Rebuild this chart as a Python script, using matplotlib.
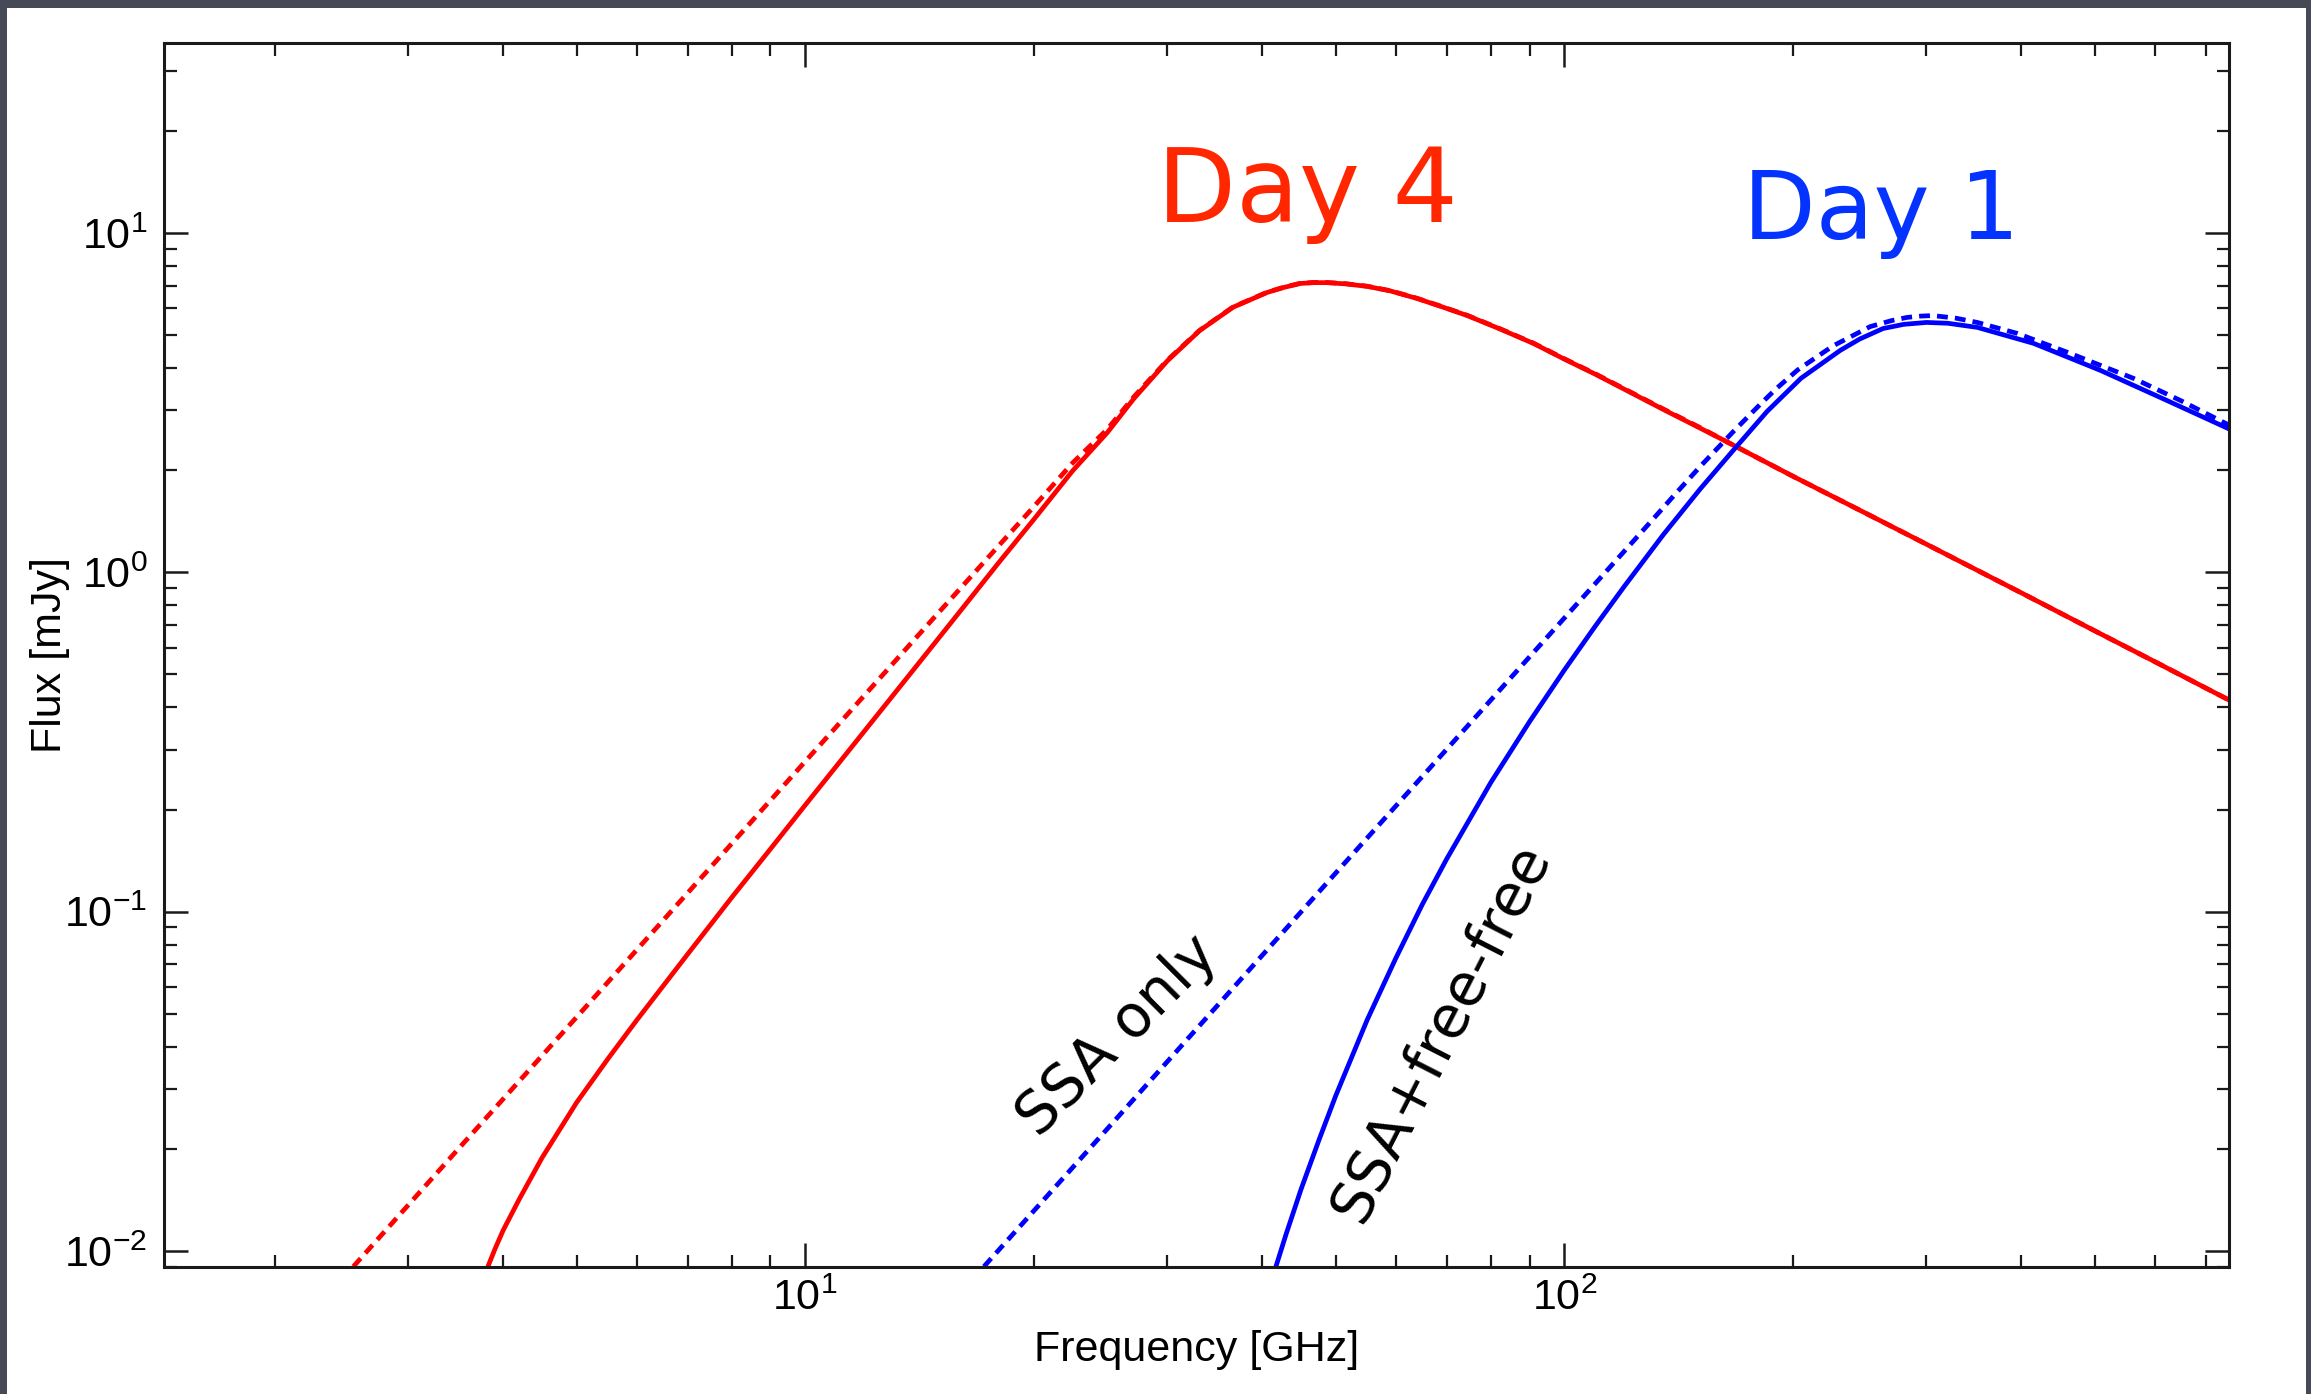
import matplotlib
matplotlib.use("Agg")
import matplotlib.pyplot as plt
from matplotlib.patches import Rectangle
from matplotlib.ticker import LogLocator, NullFormatter

# Day 4 spectrum, synchrotron self-absorption only (GHz, mJy)
freq_day4_ssa = [2.54, 3.5, 5.0, 7.0, 10.0, 14.0, 20.0, 22.5, 25.0, 27.1, 30.0, 33.1,
                 36.6, 40.6, 42.7, 44.9, 46.8, 48.6, 51.5, 55.0, 59.0, 64.0, 69.0, 74.5,
                 82.0, 91.0, 100.0, 110.0, 118.6, 135.0, 151.0, 164.0, 200.0, 250.0,
                 300.0, 400.0, 500.0, 600.0, 750.0]
flux_day4_ssa = [0.009, 0.0201, 0.0489, 0.1135, 0.277, 0.642, 1.56, 2.10, 2.64, 3.29,
                 4.22, 5.17, 6.05, 6.69, 6.92, 7.11, 7.15, 7.15, 7.09, 6.97, 6.76, 6.42,
                 6.07, 5.72, 5.24, 4.74, 4.26, 3.84, 3.52, 3.03, 2.67, 2.42, 1.92, 1.49,
                 1.21, 0.87, 0.672, 0.545, 0.421]

# Day 4 spectrum, SSA plus free-free absorption
freq_day4_ff = [3.82, 3.9, 4.0, 4.2, 4.5, 5.0, 5.5, 6.0, 7.0, 8.0, 9.0, 10.0, 12.0, 14.0,
                16.0, 18.0, 20.0, 22.5, 25.0, 27.1, 30.0, 33.1, 36.6, 40.6, 42.7, 44.9,
                46.8, 48.6, 51.5, 55.0, 59.0, 64.0, 69.0, 74.5, 82.0, 91.0, 100.0, 110.0,
                118.6, 135.0, 151.0, 164.0, 200.0, 250.0, 300.0, 400.0, 500.0, 600.0,
                750.0]
flux_day4_ff = [0.009, 0.0101, 0.0115, 0.0142, 0.0188, 0.0274, 0.0369, 0.0479, 0.0749,
                0.110, 0.153, 0.206, 0.343, 0.528, 0.768, 1.07, 1.43, 1.99, 2.58, 3.25,
                4.20, 5.16, 6.04, 6.68, 6.91, 7.10, 7.14, 7.14, 7.08, 6.96, 6.75, 6.41,
                6.06, 5.71, 5.23, 4.73, 4.25, 3.83, 3.51, 3.02, 2.66, 2.42, 1.92, 1.49,
                1.21, 0.87, 0.672, 0.545, 0.421]

# Day 1 spectrum, SSA only
freq_day1_ssa = [17.2, 25.0, 35.0, 50.0, 70.0, 100.0, 130.0, 140.0, 151.0, 167.0, 181.0,
                 190.0, 203.0, 226.0, 253.0, 270.0, 283.0, 295.0, 306.0, 328.0, 350.0,
                 395.0, 460.0, 562.0, 650.0, 750.0]
flux_day1_ssa = [0.009, 0.0229, 0.0532, 0.130, 0.301, 0.733, 1.41, 1.70, 2.05, 2.60,
                 3.12, 3.47, 3.95, 4.65, 5.30, 5.52, 5.64, 5.69, 5.71, 5.61, 5.45, 5.06,
                 4.45, 3.73, 3.20, 2.72]

# Day 1 spectrum, SSA plus free-free absorption
freq_day1_ff = [41.7, 43.0, 45.0, 47.5, 50.0, 55.0, 60.0, 65.0, 70.0, 80.0, 90.0, 100.0,
                110.0, 120.0, 135.0, 151.0, 167.0, 185.0, 205.0, 231.0, 245.0, 263.0,
                280.0, 300.0, 320.0, 350.0, 415.0, 508.0, 622.0, 750.0]
flux_day1_ff = [0.009, 0.0112, 0.0152, 0.0212, 0.0287, 0.048, 0.073, 0.105, 0.143, 0.24,
                0.363, 0.515, 0.697, 0.91, 1.29, 1.76, 2.29, 2.98, 3.73, 4.51, 4.87, 5.23,
                5.38, 5.45, 5.42, 5.27, 4.73, 3.94, 3.21, 2.65]

x_limits = (1.43, 751.0)
y_limits = (0.00897, 36.3)

plt.rcParams["font.family"] = ["Liberation Sans", "DejaVu Sans"]
plt.rcParams["mathtext.default"] = "regular"

fig = plt.figure(figsize=(23.11, 13.94), dpi=100)
fig.patch.set_facecolor("#464a56")
fig.patches.append(Rectangle((7 / 2311, 0), (2306 - 7) / 2311, 1 - 8 / 1394,
                             transform=fig.transFigure, facecolor="white",
                             edgecolor="none", zorder=-10))

ax = fig.add_axes([164 / 2311, 1 - 1267 / 1394, (2229 - 164) / 2311, (1267 - 43) / 1394])
ax.set_zorder(5)
ax.set_facecolor("white")
ax.set_xscale("log")
ax.set_yscale("log")
ax.set_xlim(*x_limits)
ax.set_ylim(*y_limits)

red = "#ff0000"
blue = "#0000ff"
lw = 3.4
dash = (0, (2.3, 1.5))

ax.plot(freq_day4_ssa, flux_day4_ssa, color=red, lw=lw, linestyle=dash)
ax.plot(freq_day4_ff, flux_day4_ff, color=red, lw=lw)
ax.plot(freq_day1_ssa, flux_day1_ssa, color=blue, lw=lw, linestyle=dash)
ax.plot(freq_day1_ff, flux_day1_ff, color=blue, lw=lw)

for side in ax.spines.values():
    side.set_linewidth(2.2)
    side.set_color("#1a1a1a")

ax.xaxis.set_major_locator(LogLocator(base=10, numticks=10))
ax.xaxis.set_minor_locator(LogLocator(base=10, subs=range(2, 10), numticks=20))
ax.yaxis.set_major_locator(LogLocator(base=10, numticks=10))
ax.yaxis.set_minor_locator(LogLocator(base=10, subs=range(2, 10), numticks=20))
ax.xaxis.set_minor_formatter(NullFormatter())
ax.yaxis.set_minor_formatter(NullFormatter())

ax.tick_params(which="both", direction="in", top=True, right=True, color="#1a1a1a")
ax.tick_params(which="major", length=17, width=1.8, labelsize=31)
ax.tick_params(which="minor", length=9, width=1.6)
ax.tick_params(axis="x", which="major", pad=8)
ax.tick_params(axis="y", which="major", pad=12)

ax.set_xlabel("Frequency [GHz]", fontsize=31)
ax.set_ylabel("Flux [mJy]", fontsize=31)
ax.xaxis.set_label_coords(0.5, -0.0515)
ax.yaxis.set_label_coords(-0.0455, 0.5)

ann_font = ["DejaVu Sans"]
ax.text(29.1, 10.8, "Day 4", color="#ff2600", fontsize=74, family=ann_font,
        ha="left", va="baseline")
ax.text(172, 9.57, "Day 1", color="#0433ff", fontsize=68, family=ann_font,
        ha="left", va="baseline")
ax.text(20.3, 0.0215, "SSA only", color="black", fontsize=42, family=ann_font,
        rotation=45, rotation_mode="anchor", ha="left", va="baseline")
ax.text(54.0, 0.0119, "SSA+free-free", color="black", fontsize=42, family=ann_font,
        rotation=63, rotation_mode="anchor", ha="left", va="baseline")

fig.savefig("out.png", dpi=100, facecolor=fig.get_facecolor())
